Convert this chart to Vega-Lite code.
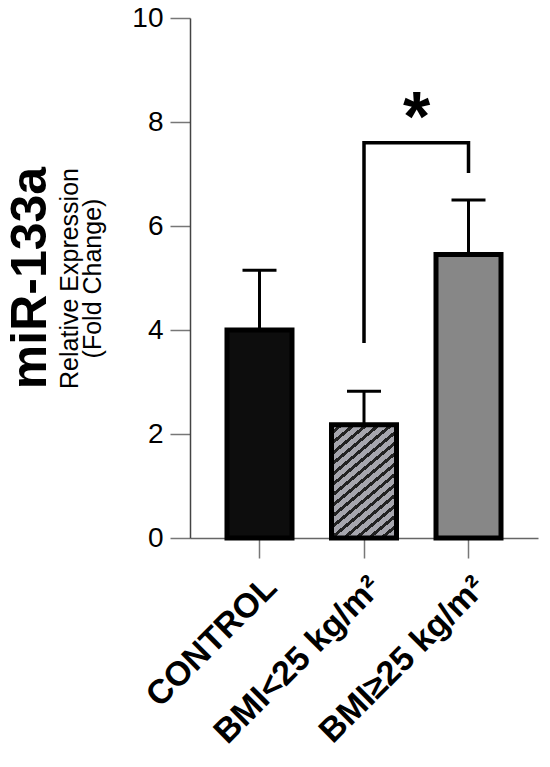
{
  "$schema": "https://vega.github.io/schema/vega-lite/v6.json",
  "width": 348,
  "height": 520,
  "autosize": {"type": "none"},
  "padding": {"left": 190, "top": 18, "right": 12, "bottom": 229},
  "background": "white",
  "title": {"text": "miR-133a", "orient": "left", "anchor": "middle", "fontSize": 50, "fontWeight": "bold", "font": "Liberation Sans", "color": "black", "offset": 2},
  "config": {"view": {"stroke": null}, "font": "Liberation Sans"},
  "datasets": {
    "bars": [
      {"g": "CONTROL", "mean": 4.0, "upper": 5.15},
      {"g": "BMI<25 kg/m²", "mean": 2.18, "upper": 2.82},
      {"g": "BMI≥25 kg/m²", "mean": 5.45, "upper": 6.5}
    ],
    "bracket": [
      {"g": "BMI<25 kg/m²", "y": 3.75, "o": 1},
      {"g": "BMI<25 kg/m²", "y": 7.6, "o": 2},
      {"g": "BMI≥25 kg/m²", "y": 7.6, "o": 3},
      {"g": "BMI≥25 kg/m²", "y": 7.02, "o": 4}
    ],
    "star": [{"g": "BMI≥25 kg/m²", "y": 7.64, "t": "*"}]
  },
  "layer": [
    {
      "data": {"name": "bars"},
      "transform": [{"filter": "datum.g !== 'BMI<25 kg/m²'"}],
      "mark": {"type": "bar", "stroke": "black", "strokeWidth": 5},
      "encoding": {
        "x": {"field": "g", "type": "nominal", "sort": null,
          "scale": {"domain": ["CONTROL", "BMI<25 kg/m²", "BMI≥25 kg/m²"], "paddingInner": 0.378, "paddingOuter": 0.354},
          "axis": {"title": null, "labelAngle": -45, "labelFontSize": 34, "labelFontWeight": "bold", "labelColor": "black", "labelFont": "Liberation Sans", "labelPadding": 12, "tickSize": 20, "tickColor": "#777", "tickWidth": 1.5, "domainColor": "#666", "domainWidth": 1.5, "labelLimit": 400}},
        "y": {"field": "mean", "type": "quantitative",
          "scale": {"domain": [0, 10], "nice": false},
          "axis": {"values": [0, 2, 4, 6, 8, 10], "grid": false, "tickSize": 20, "tickColor": "#777", "tickWidth": 1.5, "domainColor": "#444", "domainWidth": 1.5, "labelFontSize": 28, "labelColor": "black", "labelFont": "Liberation Sans", "labelPadding": 7,
            "title": ["Relative Expression", "(Fold Change)"], "titleFontSize": 25, "titleFontWeight": "normal", "titleFont": "Liberation Sans", "titleColor": "black", "titlePadding": 26, "titleLineHeight": 23}},
        "fill": {"field": "g", "type": "nominal", "scale": {"domain": ["CONTROL", "BMI≥25 kg/m²"], "range": ["#0d0d0d", "#878787"]}, "legend": null}
      }
    },
    {
      "data": {"name": "bars"},
      "transform": [{"filter": "datum.g === 'BMI<25 kg/m²'"}],
      "mark": {"type": "bar", "stroke": "black", "strokeWidth": 5,
        "fill": {"gradient": "linear", "x1": 0, "y1": 0, "x2": 0.576, "y2": 1.203,
          "stops": [
            {"offset": 0, "color": "#a6a6ae"}, {"offset": 0.03875, "color": "#a6a6ae"}, {"offset": 0.03875, "color": "#222"}, {"offset": 0.0625, "color": "#222"},
            {"offset": 0.0625, "color": "#a6a6ae"}, {"offset": 0.10125, "color": "#a6a6ae"}, {"offset": 0.10125, "color": "#222"}, {"offset": 0.125, "color": "#222"},
            {"offset": 0.125, "color": "#a6a6ae"}, {"offset": 0.16375, "color": "#a6a6ae"}, {"offset": 0.16375, "color": "#222"}, {"offset": 0.1875, "color": "#222"},
            {"offset": 0.1875, "color": "#a6a6ae"}, {"offset": 0.22625, "color": "#a6a6ae"}, {"offset": 0.22625, "color": "#222"}, {"offset": 0.25, "color": "#222"},
            {"offset": 0.25, "color": "#a6a6ae"}, {"offset": 0.28875, "color": "#a6a6ae"}, {"offset": 0.28875, "color": "#222"}, {"offset": 0.3125, "color": "#222"},
            {"offset": 0.3125, "color": "#a6a6ae"}, {"offset": 0.35125, "color": "#a6a6ae"}, {"offset": 0.35125, "color": "#222"}, {"offset": 0.375, "color": "#222"},
            {"offset": 0.375, "color": "#a6a6ae"}, {"offset": 0.41375, "color": "#a6a6ae"}, {"offset": 0.41375, "color": "#222"}, {"offset": 0.4375, "color": "#222"},
            {"offset": 0.4375, "color": "#a6a6ae"}, {"offset": 0.47625, "color": "#a6a6ae"}, {"offset": 0.47625, "color": "#222"}, {"offset": 0.5, "color": "#222"},
            {"offset": 0.5, "color": "#a6a6ae"}, {"offset": 0.53875, "color": "#a6a6ae"}, {"offset": 0.53875, "color": "#222"}, {"offset": 0.5625, "color": "#222"},
            {"offset": 0.5625, "color": "#a6a6ae"}, {"offset": 0.60125, "color": "#a6a6ae"}, {"offset": 0.60125, "color": "#222"}, {"offset": 0.625, "color": "#222"},
            {"offset": 0.625, "color": "#a6a6ae"}, {"offset": 0.66375, "color": "#a6a6ae"}, {"offset": 0.66375, "color": "#222"}, {"offset": 0.6875, "color": "#222"},
            {"offset": 0.6875, "color": "#a6a6ae"}, {"offset": 0.72625, "color": "#a6a6ae"}, {"offset": 0.72625, "color": "#222"}, {"offset": 0.75, "color": "#222"},
            {"offset": 0.75, "color": "#a6a6ae"}, {"offset": 0.78875, "color": "#a6a6ae"}, {"offset": 0.78875, "color": "#222"}, {"offset": 0.8125, "color": "#222"},
            {"offset": 0.8125, "color": "#a6a6ae"}, {"offset": 0.85125, "color": "#a6a6ae"}, {"offset": 0.85125, "color": "#222"}, {"offset": 0.875, "color": "#222"},
            {"offset": 0.875, "color": "#a6a6ae"}, {"offset": 0.91375, "color": "#a6a6ae"}, {"offset": 0.91375, "color": "#222"}, {"offset": 0.9375, "color": "#222"},
            {"offset": 0.9375, "color": "#a6a6ae"}, {"offset": 0.97625, "color": "#a6a6ae"}, {"offset": 0.97625, "color": "#222"}, {"offset": 1, "color": "#222"}
          ]}},
      "encoding": {
        "x": {"field": "g", "type": "nominal", "sort": null},
        "y": {"field": "mean", "type": "quantitative"}
      }
    },
    {
      "data": {"name": "bars"},
      "mark": {"type": "rule", "strokeWidth": 3, "color": "black"},
      "encoding": {
        "x": {"field": "g", "type": "nominal", "sort": null},
        "y": {"field": "mean", "type": "quantitative"},
        "y2": {"field": "upper"}
      }
    },
    {
      "data": {"name": "bars"},
      "mark": {"type": "tick", "size": 34, "thickness": 3, "color": "black", "opacity": 1},
      "encoding": {
        "x": {"field": "g", "type": "nominal", "sort": null},
        "y": {"field": "upper", "type": "quantitative"}
      }
    },
    {
      "data": {"name": "bracket"},
      "mark": {"type": "line", "strokeWidth": 3.5, "color": "black", "strokeJoin": "miter", "strokeCap": "butt"},
      "encoding": {
        "x": {"field": "g", "type": "nominal", "sort": null},
        "y": {"field": "y", "type": "quantitative"},
        "order": {"field": "o", "type": "quantitative"}
      }
    },
    {
      "data": {"name": "star"},
      "mark": {"type": "text", "fontSize": 70, "fontWeight": "bold", "font": "Liberation Sans", "color": "black", "dx": -52, "align": "center", "baseline": "alphabetic"},
      "encoding": {
        "x": {"field": "g", "type": "nominal", "sort": null},
        "y": {"field": "y", "type": "quantitative"},
        "text": {"field": "t"}
      }
    }
  ]
}
